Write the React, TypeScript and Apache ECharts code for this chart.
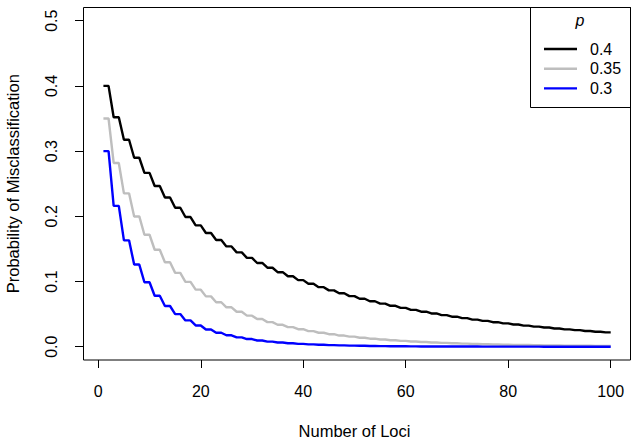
import React, { useEffect, useRef } from "react";
import * as echarts from "echarts";

const loci = [1,2,3,4,5,6,7,8,9,10,11,12,13,14,15,16,17,18,19,20,21,22,23,24,25,26,27,28,29,30,31,32,33,34,35,36,37,38,39,40,41,42,43,44,45,46,47,48,49,50,51,52,53,54,55,56,57,58,59,60,61,62,63,64,65,66,67,68,69,70,71,72,73,74,75,76,77,78,79,80,81,82,83,84,85,86,87,88,89,90,91,92,93,94,95,96,97,98,99,100];

const p040 = [0.4,0.4,0.352,0.352,0.3174,0.3174,0.2898,0.2898,0.2666,0.2666,0.2465,0.2465,0.2288,0.2288,0.2131,0.2131,0.1989,0.1989,0.1861,0.1861,0.1744,0.1744,0.1636,0.1636,0.1538,0.1538,0.1447,0.1447,0.1362,0.1362,0.1284,0.1284,0.1211,0.1211,0.1143,0.1143,0.108,0.108,0.1021,0.1021,0.0965,0.0965,0.0913,0.0913,0.0864,0.0864,0.0819,0.0819,0.0776,0.0776,0.0735,0.0735,0.0697,0.0697,0.0661,0.0661,0.0627,0.0627,0.0595,0.0595,0.0565,0.0565,0.0537,0.0537,0.051,0.051,0.0484,0.0484,0.046,0.046,0.0438,0.0438,0.0416,0.0416,0.0396,0.0396,0.0376,0.0376,0.0358,0.0358,0.0341,0.0341,0.0324,0.0324,0.0308,0.0308,0.0294,0.0294,0.028,0.028,0.0266,0.0266,0.0254,0.0254,0.0241,0.0241,0.023,0.023,0.0219,0.0219];

const p035 = [0.35,0.35,0.2818,0.2818,0.2352,0.2352,0.1998,0.1998,0.1717,0.1717,0.1487,0.1487,0.1295,0.1295,0.1132,0.1132,0.0994,0.0994,0.0875,0.0875,0.0772,0.0772,0.0682,0.0682,0.0604,0.0604,0.0536,0.0536,0.0476,0.0476,0.0424,0.0424,0.0377,0.0377,0.0336,0.0336,0.03,0.03,0.0268,0.0268,0.0239,0.0239,0.0214,0.0214,0.0192,0.0192,0.0171,0.0171,0.0154,0.0154,0.0138,0.0138,0.0123,0.0123,0.0111,0.0111,0.0099,0.0099,0.0089,0.0089,0.008,0.008,0.0072,0.0072,0.0065,0.0065,0.0058,0.0058,0.0052,0.0052,0.0047,0.0047,0.0042,0.0042,0.0038,0.0038,0.0034,0.0034,0.0031,0.0031,0.0028,0.0028,0.0025,0.0025,0.0023,0.0023,0.002,0.002,0.0018,0.0018,0.0017,0.0017,0.0015,0.0015,0.0014,0.0014,0.0012,0.0012,0.0011,0.0011];

const p030 = [0.3,0.3,0.216,0.216,0.1631,0.1631,0.126,0.126,0.0988,0.0988,0.0782,0.0782,0.0624,0.0624,0.05,0.05,0.0403,0.0403,0.0326,0.0326,0.0264,0.0264,0.0214,0.0214,0.0175,0.0175,0.0143,0.0143,0.0117,0.0117,0.0095,0.0095,0.0078,0.0078,0.0064,0.0064,0.0053,0.0053,0.0043,0.0043,0.0036,0.0036,0.0029,0.0029,0.0024,0.0024,0.002,0.002,0.0016,0.0016,0.0014,0.0014,0.0011,0.0011,0.0009,0.0009,0.0008,0.0008,0.0006,0.0006,0.0005,0.0005,0.0004,0.0004,0.0004,0.0004,0.0003,0.0003,0.0002,0.0002,0.0002,0.0002,0.0002,0.0002,0.0001,0.0001,0.0001,0.0001,0.0001,0.0001,0.0001,0.0001,0.0001,0.0001,0.0001,0.0001,0,0,0,0,0,0,0,0,0,0,0,0,0,0];

const seriesNames = ["0.4", "0.35", "0.3"];
const seriesColors = ["#000000", "#BEBEBE", "#0000FF"];
const seriesValues = [p040, p035, p030];

const FONT = "'Liberation Sans', Arial, Helvetica, sans-serif";
const LINE_ICON = "path://M0,0 L33,0 L33,2.4 L0,2.4 Z";

export default function App() {
  const ref = useRef<HTMLDivElement>(null);
  useEffect(() => {
    if (!ref.current) return;
    const chart = echarts.init(ref.current, null, { renderer: "svg" });
    const option = {
      animation: false,
      backgroundColor: "#ffffff",
      textStyle: { fontFamily: FONT, color: "#000" },
      grid: { left: 98.3, right: 28.3, top: 20.7, bottom: 98.3, containLabel: false, outerBoundsMode: "none" },
      xAxis: {
        type: "value",
        min: 0,
        max: 100,
        interval: 20,
        offset: 13.3,
        axisLine: { show: false, onZero: false },
        axisTick: { show: true, inside: false, length: 8, lineStyle: { color: "#000", width: 1 } },
        axisLabel: { color: "#000", fontSize: 16, fontFamily: FONT, margin: 23 },
        splitLine: { show: false },
        name: "Number of Loci",
        nameLocation: "middle",
        nameGap: 62,
        nameTextStyle: { color: "#000", fontSize: 16.5, fontFamily: FONT },
      },
      yAxis: {
        type: "value",
        min: 0,
        max: 0.5,
        interval: 0.1,
        offset: 15.3,
        axisLine: { show: false, onZero: false },
        axisTick: { show: true, inside: false, length: 8, lineStyle: { color: "#000", width: 1 } },
        axisLabel: {
          color: "#000",
          fontSize: 16,
          fontFamily: FONT,
          rotate: 90,
          margin: 24,
          formatter: (v: number) => v.toFixed(1),
        },
        splitLine: { show: false },
        name: "Probability of Misclassification",
        nameLocation: "middle",
        nameGap: 62,
        nameTextStyle: { color: "#000", fontSize: 16.5, fontFamily: FONT },
      },
      legend: {
        orient: "vertical",
        left: 539,
        top: 35,
        padding: 5,
        itemWidth: 33,
        itemHeight: 18,
        itemGap: 1.7,
        data: seriesNames.map((n) => ({ name: n, icon: LINE_ICON })),
        textStyle: { color: "#000", fontSize: 16, fontFamily: FONT, padding: [0, 0, 0, 8], lineHeight: 18 },
      },
      graphic: [
        {
          type: "rect",
          shape: { x: 83.5, y: 7.5, width: 547, height: 352.5 },
          style: { fill: "none", stroke: "#000", lineWidth: 1 },
          z: 100,
        },
        {
          type: "rect",
          shape: { x: 530.5, y: 7.5, width: 100, height: 100 },
          style: { fill: "none", stroke: "#000", lineWidth: 1 },
          z: 100,
        },
        {
          type: "text",
          x: 580,
          y: 20,
          style: {
            text: "p",
            font: `italic 16px ${FONT}`,
            fill: "#000",
            textAlign: "center",
            textVerticalAlign: "middle",
          },
          z: 100,
        },
      ],
      series: seriesNames.map((name, i) => ({
        name,
        type: "line",
        data: loci.map((x, j) => [x, seriesValues[i][j]]),
        showSymbol: false,
        symbol: "none",
        lineStyle: { color: seriesColors[i], width: 2.4 },
        itemStyle: { color: seriesColors[i] },
      })),
    };
    chart.setOption(option as any);
    return () => chart.dispose();
  }, []);
  return <div ref={ref} style={{ width: 639, height: 445, position: "absolute", left: 0, top: 0 }} />;
}
